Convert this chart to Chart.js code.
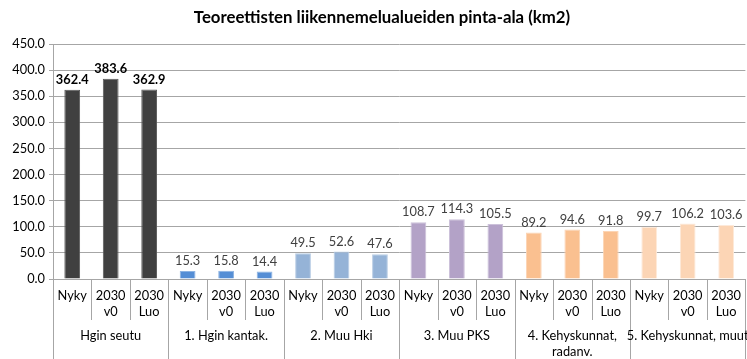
<!DOCTYPE html>
<html>
<head>
<meta charset="utf-8">
<script src="https://cdn.jsdelivr.net/npm/chart.js@4/dist/chart.umd.min.js"></script>
<style>
  html, body { margin: 0; padding: 0; background: #fff; overflow: hidden; }
  #wrap { width: 750px; height: 359px; position: relative; }
</style>
</head>
<body>
<div id="wrap"><canvas id="c"></canvas></div>
<script>
// Noise-area sizes (km2) per area group and scenario
const TITLE = 'Teoreettisten liikennemelualueiden pinta-ala (km2)';
const scenarios = [['Nyky'], ['2030', 'v0'], ['2030', 'Luo']];
const groups = [
  ['Hgin seutu'],
  ['1. Hgin kantak.'],
  ['2. Muu Hki'],
  ['3. Muu PKS'],
  ['4. Kehyskunnat,', 'radanv.'],
  ['5. Kehyskunnat, muut']
];
const values = [
  362.4, 383.6, 362.9,
  15.3, 15.8, 14.4,
  49.5, 52.6, 47.6,
  108.7, 114.3, 105.5,
  89.2, 94.6, 91.8,
  99.7, 106.2, 103.6
];
const yTicks = [0, 50, 100, 150, 200, 250, 300, 350, 400, 450];

const groupFill = ['#404040', '#558ed5', '#95b3d7', '#b3a2c7', '#fac090', '#fcd5b5'];
const groupEdge = ['#5a5a5a', '#8db3e2', '#b9cde5', '#ccc1da', '#fcd5b5', '#fde9d9'];

const FONT = 'Lato, Carlito, "Liberation Sans", sans-serif';
const GRID = '#a6a6a6';

const labels = [];
const fills = [];
const edges = [];
groups.forEach((g, gi) => {
  scenarios.forEach(s => {
    labels.push(s);
    fills.push(groupFill[gi]);
    edges.push(groupEdge[gi]);
  });
});

// Title, value labels and the two-level category separators
const decor = {
  id: 'decor',
  afterDraw(chart) {
    const ctx = chart.ctx;
    const area = chart.chartArea;
    const n = labels.length;
    const step = (area.right - area.left) / n;

    ctx.save();
    // title
    ctx.fillStyle = '#000';
    ctx.font = 'bold 16.8px ' + FONT;
    ctx.textAlign = 'center';
    ctx.textBaseline = 'middle';
    ctx.fillText(TITLE, 382, 18);

    // value labels above bars
    const meta = chart.getDatasetMeta(0);
    meta.data.forEach((bar, i) => {
      const first = i < scenarios.length;
      ctx.font = (first ? 'bold ' : '') + '12.8px ' + FONT;
      ctx.fillStyle = first ? '#000' : '#404040';
      ctx.textAlign = 'center';
      ctx.textBaseline = 'middle';
      ctx.fillText(values[i].toFixed(1), bar.x, bar.y - 10);
    });

    // separators below the axis
    ctx.strokeStyle = GRID;
    ctx.lineWidth = 1;
    const bottom = chart.height;
    for (let k = 0; k <= n; k++) {
      const x = Math.round(area.left + k * step) + 0.5;
      const isGroup = k % scenarios.length === 0;
      ctx.beginPath();
      ctx.moveTo(x, area.bottom);
      ctx.lineTo(x, isGroup ? bottom : area.bottom + 41);
      ctx.stroke();
    }

    // group labels
    ctx.font = '12.8px ' + FONT;
    ctx.fillStyle = '#000';
    ctx.textAlign = 'center';
    ctx.textBaseline = 'middle';
    groups.forEach((g, gi) => {
      const cx = area.left + (gi * scenarios.length + scenarios.length / 2) * step;
      g.forEach((line, li) => {
        ctx.fillText(line, cx, 336 + li * 15.7);
      });
    });
    ctx.restore();
  }
};

new Chart(document.getElementById('c'), {
  type: 'bar',
  data: {
    labels: labels,
    datasets: [{
      data: values,
      backgroundColor: fills,
      borderColor: edges,
      borderWidth: 1,
      barPercentage: 0.41,
      categoryPercentage: 1
    }]
  },
  options: {
    responsive: true,
    maintainAspectRatio: false,
    animation: false,
    layout: { padding: { top: 44, left: 0, right: 0, bottom: 0 } },
    plugins: {
      legend: { display: false },
      tooltip: { enabled: false },
      title: { display: false }
    },
    scales: {
      x: {
        type: 'category',
        grid: { display: true, drawOnChartArea: false, drawTicks: false, color: GRID },
        border: { color: GRID, width: 1 },
        ticks: {
          autoSkip: false,
          maxRotation: 0,
          minRotation: 0,
          padding: 9,
          color: '#000',
          font: { family: FONT, size: 12.8, lineHeight: 1.23 }
        },
        afterFit(scale) { scale.height = 80; }
      },
      y: {
        min: 0,
        max: 450,
        afterBuildTicks(scale) { scale.ticks = yTicks.map(v => ({ value: v })); },
        grid: { color: GRID, lineWidth: 1, tickLength: 4, drawTicks: true },
        border: { color: GRID, width: 1 },
        ticks: {
          padding: 4,
          color: '#000',
          font: { family: FONT, size: 12.8 },
          callback: v => Number(v).toFixed(1)
        },
        afterFit(scale) { scale.width = 53; }
      }
    }
  },
  plugins: [decor]
});
</script>
</body>
</html>
